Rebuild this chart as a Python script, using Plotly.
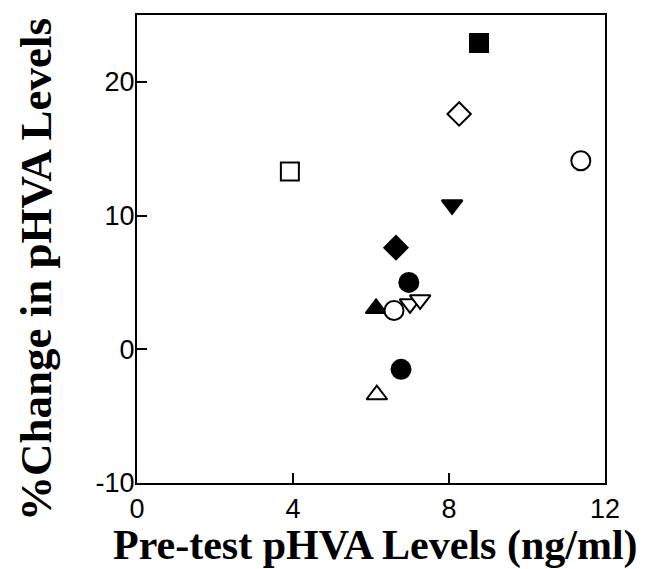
import plotly.graph_objects as go

# Data
x_vals = [3.92, 8.77, 8.26, 11.38, 8.08, 6.64, 6.97, 7.00, 7.26, 6.13, 6.59, 6.77, 6.15]
y_vals = [13.3, 22.9, 17.6, 14.1, 10.8, 7.6, 5.0, 3.4, 3.7, 3.05, 2.9, -1.5, -3.4]
symbols = ["square", "square", "diamond", "circle", "triangle-down",
           "diamond", "circle", "triangle-down", "triangle-down",
           "triangle-up", "circle", "circle", "triangle-up"]
filled = [False, True, False, False, True, True, True, False, False, True, False, True, False]

x_ticks = [0, 4, 8, 12]
y_ticks = [-10, 0, 10, 20]
y_tick_labels = ["-10", "0", "10", "20"]

fig = go.Figure()
for xv, yv, s, f in zip(x_vals, y_vals, symbols, filled):
    fig.add_trace(go.Scatter(
        x=[xv], y=[yv], mode="markers",
        marker=dict(symbol=s, size=19 if s == "circle" else 18,
                    color="black" if f else "white",
                    line=dict(color="black", width=2)),
        showlegend=False))

axis_common = dict(showline=True, linecolor="black", linewidth=2, mirror=True,
                   ticks="inside", ticklen=10, tickwidth=2, tickcolor="black",
                   showgrid=False, zeroline=False,
                   tickfont=dict(family="Liberation Sans, Arial", size=27, color="black"))

fig.update_xaxes(range=[0, 12], tickvals=x_ticks, ticklabelstandoff=1, **axis_common)
fig.update_yaxes(range=[-10, 25], tickvals=y_ticks, ticktext=y_tick_labels,
                 ticklabelstandoff=-5, **axis_common)

fig.add_annotation(text="Pre-test pHVA Levels (ng/ml)", xref="paper", yref="paper",
                   x=0.5, y=-0.134, xanchor="center", yanchor="middle", showarrow=False,
                   xshift=4,
                   font=dict(family="Liberation Serif, Times New Roman", size=42, color="black", weight="bold"))
fig.add_annotation(text="%Change in pHVA Levels", xref="paper", yref="paper",
                   x=0, y=0.5, xanchor="center", yanchor="middle", textangle=-90,
                   xshift=-101, yshift=-21, showarrow=False,
                   font=dict(family="Liberation Serif, Times New Roman", size=45, color="black", weight="bold"))

fig.update_layout(width=641, height=561, plot_bgcolor="white", paper_bgcolor="white",
                  margin=dict(l=129, r=44, t=5, b=86))

fig.write_html("out.html")
